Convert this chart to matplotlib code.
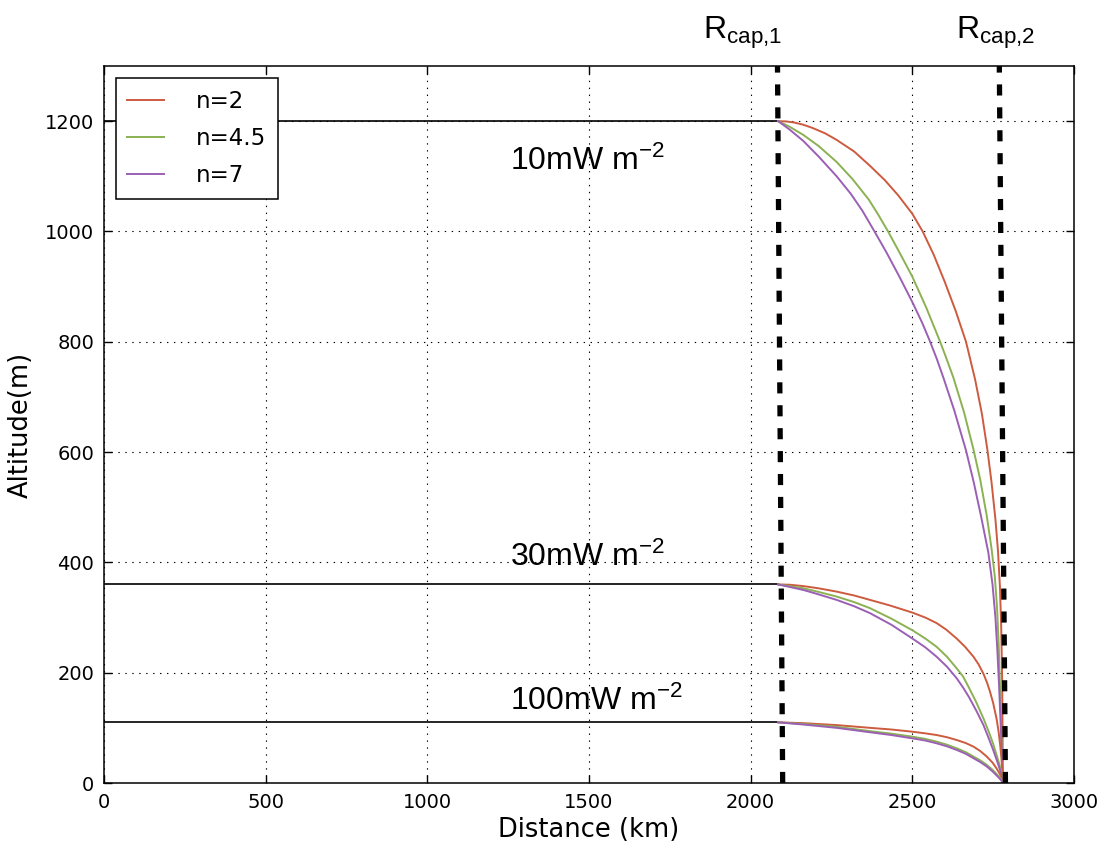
import matplotlib
matplotlib.use('Agg')
import matplotlib.pyplot as plt

# flux levels (m) and their labels
levels = [1200, 360, 110]
level_labels = ['10mW m$^{-2}$', '30mW m$^{-2}$', '100mW m$^{-2}$']
label_y = [1111, 393, 132]
flat_x = [0, 2085]

# dashed R_cap markers (slightly slanted in the original)
rcap1_x = [2099, 2083]
rcap2_x = [2788, 2769]
rcap_y = [0, 1300]

# curves, 10 mW m-2
top_n2_x = [2085, 2110, 2135, 2163, 2190, 2230, 2266, 2320, 2369, 2415, 2457, 2500, 2532,
            2566, 2600, 2634, 2666, 2694, 2715, 2732, 2745, 2757, 2765, 2771, 2775, 2778, 2780]
top_n2_y = [1200, 1199.5, 1197.5, 1193.5, 1188, 1178, 1166, 1145, 1119, 1093, 1065, 1032, 1000,
            958, 909, 856, 800, 732, 670, 605, 545, 478, 420, 355, 280, 180, 0]
top_n45_x = [2085, 2120, 2163, 2210, 2266, 2315, 2365, 2395, 2425, 2462, 2500, 2543, 2586,
             2604, 2627, 2660, 2689, 2710, 2730, 2745, 2755, 2762, 2767, 2772, 2776, 2780]
top_n45_y = [1200, 1190, 1175, 1155, 1126, 1095, 1058, 1030, 1000, 960, 918, 862, 800,
             772, 735, 672, 605, 550, 485, 425, 375, 318, 252, 160, 80, 0]
top_n7_x = [2085, 2120, 2163, 2210, 2266, 2310, 2345, 2383, 2420, 2460, 2500, 2530, 2553,
            2575, 2596, 2630, 2666, 2690, 2712, 2735, 2748, 2757, 2763, 2768, 2773, 2777, 2780]
top_n7_y = [1200, 1185, 1164, 1136, 1100, 1068, 1038, 1000, 962, 918, 872, 835, 803,
            770, 735, 675, 603, 545, 485, 418, 360, 300, 240, 180, 110, 50, 0]

# 30 mW m-2
mid_n2_x = [2085, 2120, 2163, 2210, 2266, 2320, 2369, 2430, 2500, 2540, 2575, 2605, 2637,
            2663, 2689, 2705, 2720, 2731, 2740, 2750, 2761, 2767, 2772, 2776, 2780]
mid_n2_y = [360, 359.5, 357, 353, 347, 340, 332, 322, 309, 300, 290, 278, 262,
            247, 229, 215, 198, 182, 166, 145, 115, 92, 67, 42, 0]
mid_x = [2085, 2120, 2163, 2210, 2266, 2320, 2369, 2435, 2500, 2540, 2575, 2607, 2637,
         2657, 2675, 2698, 2720, 2737, 2750, 2762, 2770, 2776, 2780]
mid_n45_y = [360, 357, 353, 346.5, 338, 328, 317, 298, 277, 262, 247, 229, 208,
             193, 173, 146, 117, 92, 71, 48, 32, 18, 0]
mid_n7_y = [360, 355.5, 350, 342, 332, 320.5, 308, 287, 262, 246, 229, 211, 190,
            173, 156, 131, 105, 80, 60, 40, 26, 13, 0]

# 100 mW m-2
low_x = [2085, 2163, 2266, 2369, 2435, 2500, 2540, 2575, 2607, 2637, 2665, 2689, 2710,
         2730, 2748, 2761, 2770, 2776, 2780]
low_n2_y = [110, 108.5, 105, 100, 97, 93, 90, 87, 83, 78, 72.5, 66, 58,
            48, 37, 26, 17, 9, 0]
low_n45_y = [110, 107, 102, 94, 89.5, 84, 80, 75, 69.5, 63, 56, 48, 41,
             33, 24, 16, 10, 5, 0]
low_n7_y = [110, 106, 100, 92, 87, 81, 77, 72, 66.5, 60, 53, 45, 38,
            30, 21, 13.5, 8, 4, 0]

names = ['n=2', 'n=4.5', 'n=7']
colors = ['#cc5b3f', '#8bb153', '#9b5fb5']

plt.rcParams['mathtext.fontset'] = 'custom'
plt.rcParams['mathtext.rm'] = 'Liberation Sans'
plt.rcParams['mathtext.it'] = 'Liberation Sans:italic'
plt.rcParams['lines.scale_dashes'] = False

fig = plt.figure(figsize=(11.07, 8.47), dpi=100)
ax = fig.add_axes([104/1107, 64/847, 970/1107, 717/847])

for lv in levels:
    ax.plot(flat_x, [lv, lv], color='k', lw=1.2)

curves = [
    [(top_n2_x, top_n2_y), (top_n45_x, top_n45_y), (top_n7_x, top_n7_y)],
    [(mid_n2_x, mid_n2_y), (mid_x, mid_n45_y), (mid_x, mid_n7_y)],
    [(low_x, low_n2_y), (low_x, low_n45_y), (low_x, low_n7_y)],
]
for i, group in enumerate(curves):
    for j, (cx, cy) in enumerate(group):
        ax.plot(cx, cy, color=colors[j], lw=1.4, label=names[j] if i == 0 else None)

for rx in (rcap1_x, rcap2_x):
    ax.plot(rx, rcap_y, color='k', lw=3.8, dashes=(8, 8.5), zorder=5)

for lab, ly in zip(level_labels, label_y):
    ax.text(1256, ly, lab, fontsize=23, family='Liberation Sans', va='baseline', ha='left')

ax.text(1853, 1350, r'R$_{\mathrm{cap{,}1}}$', fontsize=23, family='Liberation Sans',
        va='baseline', ha='left', clip_on=False)
ax.text(2635, 1350, r'R$_{\mathrm{cap{,}2}}$', fontsize=23, family='Liberation Sans',
        va='baseline', ha='left', clip_on=False)

ax.set_xlim(0, 3000)
ax.set_ylim(0, 1300)
ax.set_xticks(range(0, 3001, 500))
ax.set_yticks(range(0, 1201, 200))
ax.tick_params(direction='in', top=True, right=True, length=6, width=1,
               labelsize=14, pad=7)
ax.grid(True, color='k', linestyle=(0, (1, 4)), lw=0.8)
for s in ax.spines.values():
    s.set_linewidth(1.1)

ax.set_xlabel('Distance (km)', fontsize=18.5, labelpad=4)
ax.set_ylabel('Altitude(m)', fontsize=18.5, labelpad=8)

leg = ax.legend(loc='upper left', bbox_to_anchor=(0.0124, 0.983), borderaxespad=0,
                fontsize=16.5, fancybox=False, framealpha=1, edgecolor='k',
                handlelength=1.6, handletextpad=1.4, labelspacing=0.62, borderpad=0.5)
leg.get_frame().set_linewidth(1.1)

fig.savefig('out.png', dpi=100)
